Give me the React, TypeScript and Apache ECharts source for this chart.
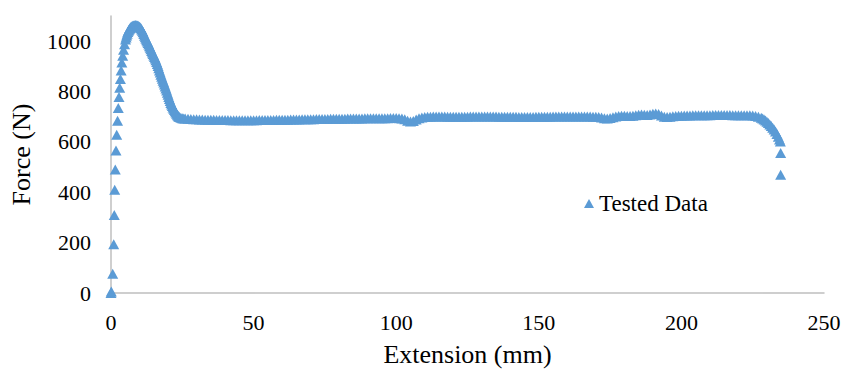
import React, { useEffect, useRef } from "react";
import * as echarts from "echarts";

const seriesName = "Tested Data";
const xTitle = "Extension (mm)";
const yTitle = "Force (N)";
const xTicks = [0, 50, 100, 150, 200, 250];
const yTicks = [0, 200, 400, 600, 800, 1000];

// Rising part and peak (mm)
const riseExtension = [0, 0.1, 0.6, 0.95, 1.15, 1.3, 1.5, 1.75, 2.0, 2.3, 2.55, 2.8, 3.05, 3.3, 3.55, 3.8, 4.1, 4.4, 4.75, 5.1, 5.3, 5.5, 5.7, 5.9, 6.1, 6.3, 6.5, 6.7, 6.9, 7.1, 7.35, 7.6, 7.9, 8.2, 8.6];
const riseForce = [0, 6, 76, 194, 310, 410, 490, 566, 628, 684, 735, 778, 815, 850, 884, 915, 942, 966, 988, 1007, 1015, 1023, 1030, 1036, 1041, 1045, 1049, 1052, 1055, 1057, 1059, 1061, 1062, 1063, 1064];

// Necking / drop after the peak
const dropExtension = [9.0, 9.25, 9.5, 9.75, 10.0, 10.25, 10.5, 10.75, 11.0, 11.25, 11.5, 11.75, 12.0, 12.25, 12.5, 12.75, 13.0, 13.25, 13.5, 13.75, 14.0, 14.25, 14.5, 14.75, 15.0, 15.25, 15.5, 15.75, 16.0, 16.25, 16.5, 16.75, 17.0, 17.25, 17.5, 17.75, 18.0, 18.25, 18.5, 18.75, 19.0, 19.25, 19.5, 19.75, 20.0, 20.25, 20.5, 20.75, 21.0, 21.25, 21.5, 21.75, 22.0, 22.25, 22.5, 22.75, 23.0, 23.25, 23.5, 23.75, 24.0, 24.5, 25.0, 25.5, 26.0];
const dropForce = [1063, 1062, 1061, 1059, 1057, 1054, 1051, 1046, 1041, 1035, 1029, 1022, 1016, 1010, 1004, 999, 993, 987, 980, 974, 968, 961, 955, 949, 943, 937, 931, 924, 917, 909, 901, 893, 884, 876, 867, 859, 851, 843, 836, 828, 820, 812, 804, 795, 787, 778, 770, 762, 755, 749, 743, 737, 732, 727, 722, 717, 712, 708, 704, 701, 699, 696, 694, 693, 693];

// Plateau, one reading per mm from 27 mm to 225 mm
const plateauStart = 27;
const plateauForce = [
  692, 691, 690, 690,
  689, 689, 688, 688, 688, 688, 687, 687, 687, 687,
  687, 686, 686, 686, 686, 686, 686, 686, 686, 686,
  686, 687, 687, 687, 687, 687, 687, 688, 688, 688,
  688, 688, 689, 689, 689, 689, 690, 690, 690, 690,
  690, 691, 691, 691, 691, 691, 692, 692, 692, 692,
  692, 692, 693, 693, 693, 693, 693, 693, 694, 694,
  694, 694, 694, 694, 694, 694, 694, 695, 695, 695,
  694, 693, 690, 684, 681, 683, 689, 694, 697, 699,
  700, 700, 701, 701, 701, 701, 701, 700, 700, 700,
  700, 700, 700, 700, 700, 701, 701, 701, 701, 701,
  701, 701, 701, 701, 701, 700, 700, 700, 700, 700,
  700, 700, 699, 699, 699, 699, 699, 699, 700, 700,
  700, 700, 700, 700, 701, 701, 701, 701, 701, 701,
  701, 701, 701, 701, 701, 701, 701, 701, 700, 700,
  699, 697, 694, 693, 695, 698, 701, 703, 704, 704,
  703, 703, 704, 706, 708, 709, 708, 707, 709, 712,
  713, 711, 705, 700, 699, 700, 702, 703, 704, 704,
  705, 705, 705, 706, 706, 706, 706, 706, 706, 706,
  707, 707, 707, 707, 707, 707, 707, 706, 706, 706,
  706, 706, 706, 706, 705,
];

// Final drop to fracture
const endExtension = [226, 227, 228, 228.5, 229, 229.5, 230, 230.5, 231, 231.5, 232, 232.5, 233, 233.5, 234, 234.4, 234.7, 234.8, 234.8];
const endForce = [703, 700, 696, 693, 689, 685, 680, 675, 669, 663, 656, 649, 641, 631, 620, 610, 602, 556, 470];

const FONT = "Liberation Serif";

export default function App() {
  const ref = useRef<HTMLDivElement>(null);

  useEffect(() => {
    if (!ref.current) return;
    const chart = echarts.init(ref.current, undefined, { renderer: "svg" });

    const data: number[][] = [];
    riseExtension.forEach((x, i) => data.push([x, riseForce[i]]));
    dropExtension.forEach((x, i) => data.push([x, dropForce[i]]));
    plateauForce.forEach((f, i) => data.push([plateauStart + i, f]));
    endExtension.forEach((x, i) => data.push([x, endForce[i]]));

    chart.setOption({
      animation: false,
      backgroundColor: "#ffffff",
      textStyle: { fontFamily: FONT },
      grid: {
        left: 111,
        right: 19,
        top: 16,
        bottom: 76,
        containLabel: false,
        outerBoundsMode: "none",
      },
      legend: {
        data: [{ name: seriesName, icon: "triangle" }],
        left: 579,
        top: 187,
        itemWidth: 10,
        itemHeight: 9,
        textStyle: { fontFamily: FONT, fontSize: 23, color: "#000" },
      },
      xAxis: {
        type: "value",
        min: xTicks[0],
        max: xTicks[xTicks.length - 1],
        interval: 50,
        name: xTitle,
        nameLocation: "middle",
        nameGap: 51,
        nameTextStyle: { fontFamily: FONT, fontSize: 26, lineHeight: 20, color: "#000" },
        axisLine: { show: true, onZero: false, lineStyle: { color: "#bfbfbf", width: 1.5 } },
        axisTick: { show: false },
        splitLine: { show: false },
        axisLabel: { fontFamily: FONT, fontSize: 22, color: "#000", margin: 18 },
      },
      yAxis: {
        type: "value",
        min: 0,
        max: 1100,
        interval: 200,
        name: yTitle,
        nameLocation: "middle",
        nameGap: 77,
        nameTextStyle: { fontFamily: FONT, fontSize: 26, color: "#000" },
        axisLine: { show: true, lineStyle: { color: "#bfbfbf", width: 1.5 } },
        axisTick: { show: false },
        splitLine: { show: false },
        axisLabel: {
          fontFamily: FONT,
          fontSize: 22,
          color: "#000",
          margin: 20,
          formatter: (v: number) => (yTicks.includes(v) ? String(v) : ""),
        },
      },
      series: [
        {
          name: seriesName,
          type: "scatter",
          symbol: "triangle",
          symbolSize: [11, 10],
          itemStyle: { color: "#5b9bd5", opacity: 1 },
          data,
        },
      ],
    });

    return () => chart.dispose();
  }, []);

  return (
    <div
      ref={ref}
      style={{ position: "fixed", left: 0, top: 0, width: 843, height: 369 }}
    />
  );
}
